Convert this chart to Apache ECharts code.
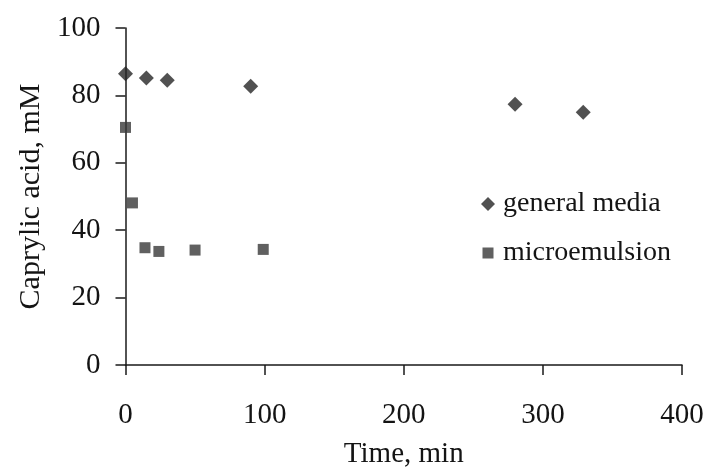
<!DOCTYPE html>
<html>
<head>
<meta charset="utf-8">
<script src="https://cdn.jsdelivr.net/npm/echarts@6/dist/echarts.min.js"></script>
<style>
  html, body { margin: 0; padding: 0; background: #fff; }
  #chart { width: 711px; height: 474px; }
</style>
</head>
<body>
<div id="chart"></div>
<script>
const generalTime = [0, 15, 30, 90, 280, 329];
const generalAcid = [86.4, 85.2, 84.5, 82.7, 77.4, 75.0];
const microTime = [0, 5, 14, 24, 50, 99];
const microAcid = [70.5, 48.1, 34.8, 33.7, 34.1, 34.3];

const FONT = "'Liberation Serif', 'DejaVu Serif', serif";
const TEXT = "#141414";
const AXIS = "#1a1a1a";

function pairs(xs, ys) {
  return xs.map((x, i) => [x, ys[i]]);
}

const chart = echarts.init(document.getElementById("chart"));

chart.setOption({
  animation: false,
  textStyle: { fontFamily: FONT, color: TEXT },
  grid: { left: 125.5, right: 29, top: 28, bottom: 106 },
  legend: {
    orient: "vertical",
    left: 476,
    top: 184,
    itemWidth: 14,
    itemHeight: 14,
    itemGap: 19,
    textStyle: { fontFamily: FONT, fontSize: 28, color: TEXT, lineHeight: 30, padding: [0, 0, 0, 3] },
    data: [
      { name: "general media", icon: "diamond" },
      { name: "microemulsion", icon: "path://M0,0M14,14M1.5,1.5h11v11h-11z" },
    ],
  },
  xAxis: {
    type: "value",
    min: 0,
    max: 400,
    interval: 100,
    name: "Time, min",
    nameLocation: "middle",
    nameGap: 75,
    nameTextStyle: { fontFamily: FONT, fontSize: 29, color: TEXT },
    axisLine: { show: true, lineStyle: { color: AXIS, width: 1.5 } },
    axisTick: { show: true, length: 10, lineStyle: { color: AXIS, width: 1.5 } },
    axisLabel: { fontFamily: FONT, fontSize: 29, color: TEXT, margin: 36 },
    splitLine: { show: false },
  },
  yAxis: {
    type: "value",
    min: 0,
    max: 100,
    interval: 20,
    name: "Caprylic acid, mM",
    nameLocation: "middle",
    nameGap: 79,
    nameTextStyle: { fontFamily: FONT, fontSize: 30, color: TEXT },
    axisLine: { show: true, lineStyle: { color: AXIS, width: 1.5 } },
    axisTick: { show: true, length: 10, lineStyle: { color: AXIS, width: 1.5 } },
    axisLabel: { fontFamily: FONT, fontSize: 29, color: TEXT, margin: 25 },
    splitLine: { show: false },
  },
  series: [
    {
      name: "general media",
      type: "scatter",
      symbol: "diamond",
      symbolSize: 15,
      clip: false,
      itemStyle: { color: "#262626" },
      data: pairs(generalTime, generalAcid),
    },
    {
      name: "microemulsion",
      type: "scatter",
      symbol: "rect",
      symbolSize: 11,
      clip: false,
      itemStyle: { color: "#383838" },
      data: pairs(microTime, microAcid),
    },
  ],
});
</script>
</body>
</html>
